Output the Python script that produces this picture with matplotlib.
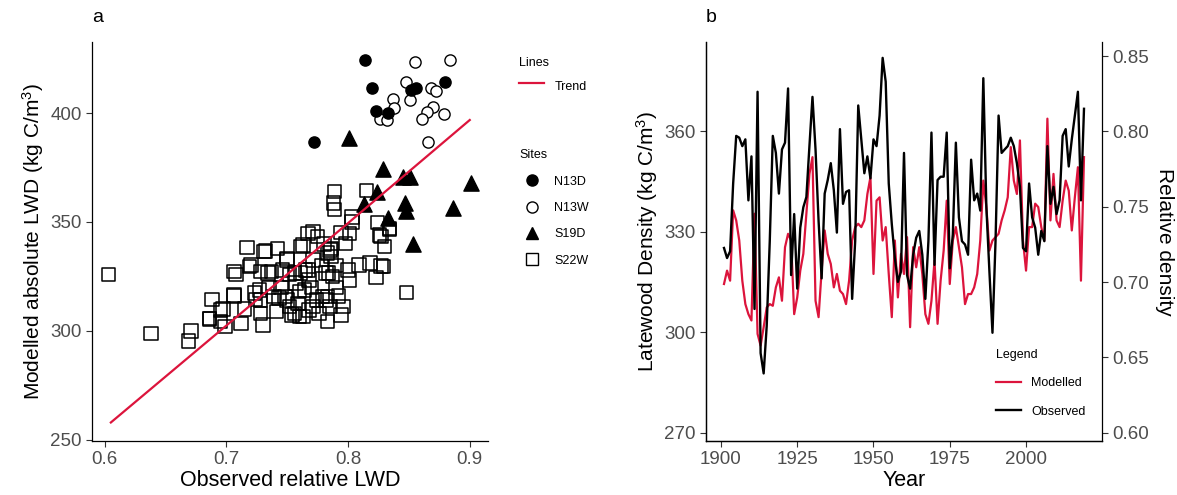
import numpy as np
import matplotlib
matplotlib.use("Agg")
from matplotlib import pyplot as plt
from matplotlib.lines import Line2D

plt.rcParams["font.family"] = ["Liberation Sans", "DejaVu Sans"]
plt.rcParams["mathtext.default"] = "regular"

# panel a: sites
n13d_x = [0.814, 0.820, 0.823, 0.833, 0.852, 0.856, 0.880, 0.772]
n13d_y = [424.3, 411.3, 401.1, 399.9, 410.6, 411.3, 414.4, 386.6]
n13w_x = [0.855, 0.884, 0.848, 0.837, 0.838, 0.851, 0.868, 0.872, 0.870, 0.865,
          0.861, 0.879, 0.826, 0.832, 0.866]
n13w_y = [423.5, 424.3, 414.4, 406.3, 402.2, 406.0, 411.3, 410.3, 403.0, 400.6,
          397.1, 399.5, 397.1, 396.8, 386.6]
s19d_x = [0.801, 0.829, 0.845, 0.851, 0.901, 0.824, 0.813, 0.847, 0.848, 0.886, 0.833, 0.853]
s19d_y = [388.4, 374.2, 370.5, 370.5, 368.0, 363.9, 358.3, 358.6, 355.2, 356.3, 352.0, 339.9]
s22w_x = [0.603, 0.638, 0.669, 0.671, 0.688, 0.686, 0.695, 0.697, 0.706, 0.708,
          0.706, 0.712, 0.715, 0.717, 0.719, 0.728, 0.732, 0.727, 0.724, 0.728,
          0.730, 0.737, 0.742, 0.746, 0.750, 0.743, 0.748, 0.752, 0.754, 0.760,
          0.759, 0.763, 0.761, 0.765, 0.768, 0.771, 0.775, 0.771, 0.774, 0.771,
          0.779, 0.782, 0.783, 0.782, 0.783, 0.786, 0.784, 0.787, 0.789, 0.788,
          0.789, 0.794, 0.798, 0.800, 0.796, 0.794, 0.801, 0.803, 0.801, 0.815,
          0.818, 0.823, 0.824, 0.827, 0.829, 0.830, 0.834, 0.848, 0.803, 0.834,
          0.826, 0.785, 0.786, 0.827, 0.809, 0.783, 0.785, 0.763, 0.768, 0.686,
          0.695, 0.699, 0.706, 0.720, 0.731, 0.734, 0.723, 0.728, 0.739, 0.741,
          0.750, 0.761, 0.767, 0.756, 0.750, 0.756, 0.764, 0.767, 0.757, 0.770,
          0.778, 0.790, 0.792, 0.776, 0.760, 0.745, 0.735, 0.752, 0.780, 0.790]
s22w_y = [326.0, 298.9, 295.4, 300.1, 314.5, 305.4, 304.3, 310.0, 316.0, 326.0,
          327.2, 303.5, 310.0, 338.3, 329.5, 327.2, 336.8, 318.8, 314.5, 308.1,
          302.8, 327.2, 337.9, 328.0, 333.3, 315.0, 315.8, 311.2, 307.3, 306.6,
          312.7, 339.4, 326.5, 328.0, 323.4, 345.6, 343.3, 332.6, 314.2, 311.2,
          315.8, 314.2, 304.3, 326.5, 335.7, 337.9, 326.5, 325.0, 363.9, 358.6,
          355.8, 345.1, 340.2, 328.0, 311.2, 307.3, 344.8, 350.1, 323.4, 364.4,
          331.3, 324.6, 349.7, 343.3, 329.5, 338.7, 347.1, 317.7, 352.4, 346.6,
          344.0, 337.2, 334.1, 329.8, 330.3, 315.8, 311.2, 306.6, 309.6, 305.8,
          309.6, 302.0, 316.5, 330.3, 336.4, 326.5, 317.3, 314.2, 315.8, 308.9,
          332.6, 338.7, 344.8, 326.5, 314.2, 308.1, 318.8, 328.0, 322.0, 320.0,
          330.0, 320.0, 316.0, 308.0, 318.0, 320.0, 320.0, 326.0, 340.0, 330.0]
trend_x = [0.605, 0.70, 0.80, 0.90]
trend_y = [258.0, 302.5, 349.5, 396.8]

# panel b: yearly series
year_start = 1901
modelled = [314.4, 318.4, 315.4, 336.4, 333.4, 327.4, 315.4, 308.4, 305.4, 303.5,
            335.4, 299.5, 296.0, 301.5, 307.4, 308.4, 307.9, 313.4, 316.4, 309.4,
            325.4, 329.4, 327.4, 305.4, 310.4, 318.4, 323.4, 335.4, 347.3, 352.3,
            309.4, 304.5, 318.4, 330.4, 323.4, 320.4, 313.4, 317.4, 312.4, 311.4,
            308.4, 315.4, 327.4, 331.4, 332.4, 331.4, 333.4, 341.3, 346.3, 317.4,
            339.3, 340.3, 327.4, 331.4, 317.4, 304.5, 327.4, 310.4, 323.4, 317.4,
            328.4, 301.5, 325.4, 319.4, 325.4, 317.4, 305.4, 302.5, 309.4, 321.4,
            302.5, 315.4, 324.4, 339.3, 314.4, 327.4, 331.4, 325.4, 319.4, 308.4,
            311.4, 311.4, 313.4, 317.4, 327.4, 345.3, 337.4, 324.4, 327.4, 328.4,
            329.4, 333.4, 336.4, 340.3, 355.3, 345.3, 341.3, 357.3, 327.4, 318.4,
            331.4, 331.4, 338.4, 337.4, 331.4, 327.4, 363.8, 333.4, 347.3, 333.4,
            331.4, 339.3, 345.3, 342.3, 330.4, 340.3, 349.3, 315.4, 352.3]
observed = [0.7226, 0.7159, 0.7204, 0.7654, 0.7970, 0.7958, 0.7902, 0.7947, 0.7542, 0.7834,
            0.6821, 0.8263, 0.6528, 0.6393, 0.6708, 0.7271, 0.7970, 0.7857, 0.7587, 0.7880,
            0.7925, 0.8285, 0.7046, 0.7451, 0.6956, 0.7361, 0.7496, 0.7564, 0.7902, 0.8229,
            0.7880, 0.7406, 0.7024, 0.7587, 0.7677, 0.7789, 0.7609, 0.7328, 0.8015, 0.7519,
            0.7598, 0.7609, 0.6888, 0.7271, 0.8172, 0.7947, 0.7722, 0.7834, 0.7688, 0.7947,
            0.7902, 0.8105, 0.8488, 0.8330, 0.7654, 0.7384, 0.7159, 0.7001, 0.7068, 0.7857,
            0.7046, 0.6956, 0.7181, 0.7294, 0.7339, 0.7181, 0.6888, 0.7271, 0.7992, 0.7114,
            0.7677, 0.7699, 0.7699, 0.7992, 0.7091, 0.7316, 0.7925, 0.7429, 0.7271, 0.7249,
            0.7181, 0.7812, 0.7542, 0.7587, 0.7474, 0.8353, 0.7496, 0.7068, 0.6663, 0.7271,
            0.8105, 0.7857, 0.7880, 0.7902, 0.7958, 0.7902, 0.7789, 0.7632, 0.7226, 0.7204,
            0.7654, 0.7429, 0.7361, 0.7181, 0.7339, 0.7271, 0.7902, 0.7519, 0.7632, 0.7451,
            0.7542, 0.7970, 0.8015, 0.7767, 0.7947, 0.8105, 0.8263, 0.7542, 0.8150]
years = np.arange(year_start, year_start + len(modelled))
sec_scale = 450.0

RED = "#DC143C"
GREY = "#4D4D4D"


def style_axis(ax):
    ax.tick_params(axis="both", which="both", direction="out", length=4, width=0.8,
                   color="#333333", labelcolor=GREY, labelsize=13.5)
    for side in ["left", "bottom", "right", "top"]:
        ax.spines[side].set_linewidth(0.9)
        ax.spines[side].set_color("black")


fig = plt.figure(figsize=(11.77, 4.95), dpi=100)

# ---- panel a
ax_a = fig.add_axes([92 / 1177, 54 / 495, 396 / 1177, 399 / 495])
ax_a.plot(trend_x, trend_y, color=RED, lw=1.6, zorder=3)
ax_a.scatter(s22w_x, s22w_y, marker="s", s=95, facecolors="none", edgecolors="black", linewidths=1.1, zorder=2)
ax_a.scatter(s19d_x, s19d_y, marker="^", s=120, color="black", zorder=2)
ax_a.scatter(n13w_x, n13w_y, marker="o", s=65, facecolors="white", edgecolors="black", linewidths=1.0, zorder=2)
ax_a.scatter(n13d_x, n13d_y, marker="o", s=65, color="black", zorder=2)
ax_a.set_xlim(0.5895, 0.915)
ax_a.set_ylim(249.5, 432.6)
ax_a.set_xticks([0.6, 0.7, 0.8, 0.9])
ax_a.set_xticklabels(["0.6", "0.7", "0.8", "0.9"])
ax_a.set_yticks([250, 300, 350, 400])
ax_a.spines["top"].set_visible(False)
ax_a.spines["right"].set_visible(False)
style_axis(ax_a)
ax_a.set_xlabel("Observed relative LWD", fontsize=15.5, labelpad=1)
ax_a.set_ylabel("Modelled absolute LWD (kg C/m$^3$)", fontsize=15, labelpad=3)
fig.text(92 / 1177, 1 - 18 / 495, "a", fontsize=14, va="center", ha="left")

fig.legend([Line2D([], [], color=RED, lw=1.6)], ["Trend"], title="Lines",
           loc="upper left", bbox_to_anchor=(508 / 1177, 1 - 46 / 495),
           frameon=False, fontsize=9, title_fontsize=9, alignment="left",
           handlelength=2.0, handletextpad=0.8, handleheight=2.2)
site_handles = [
    Line2D([], [], ls="none", marker="o", ms=8, color="black"),
    Line2D([], [], ls="none", marker="o", ms=8, mfc="white", mec="black"),
    Line2D([], [], ls="none", marker="^", ms=9, color="black"),
    Line2D([], [], ls="none", marker="s", ms=9, mfc="none", mec="black"),
]
fig.legend(site_handles, ["N13D", "N13W", "S19D", "S22W"], title="Sites",
           loc="upper left", bbox_to_anchor=(508 / 1177, 1 - 138 / 495),
           frameon=False, fontsize=9, title_fontsize=9, alignment="left",
           handlelength=2.0, handletextpad=0.8, labelspacing=1.15)

# ---- panel b
ax_b = fig.add_axes([706 / 1177, 54 / 495, 396 / 1177, 399 / 495])
ax_r = ax_b.twinx()
ax_b.plot(years, modelled, color=RED, lw=1.6, label="Modelled")
ax_r.plot(years, observed, color="black", lw=1.7, label="Observed")
ax_b.set_xlim(1895.1, 2024.9)
ax_b.set_ylim(267.5, 386.7)
ax_r.set_ylim(267.5 / sec_scale, 386.7 / sec_scale)
ax_b.set_xticks([1900, 1925, 1950, 1975, 2000])
ax_b.set_yticks([270, 300, 330, 360])
ax_r.set_yticks([0.60, 0.65, 0.70, 0.75, 0.80, 0.85])
ax_r.set_yticklabels(["0.60", "0.65", "0.70", "0.75", "0.80", "0.85"])
ax_b.spines["top"].set_visible(False)
ax_r.spines["top"].set_visible(False)
ax_b.spines["right"].set_visible(False)
style_axis(ax_b)
style_axis(ax_r)
ax_b.set_xlabel("Year", fontsize=15.5, labelpad=1)
ax_b.set_ylabel("Latewood Density (kg C/m$^3$)", fontsize=15, labelpad=3)
ax_r.set_ylabel("Relative density", fontsize=15, rotation=270, labelpad=18)
fig.text(706 / 1177, 1 - 18 / 495, "b", fontsize=14, va="center", ha="left")

fig.legend([Line2D([], [], color=RED, lw=1.6), Line2D([], [], color="black", lw=1.7)],
           ["Modelled", "Observed"], title="Legend", loc="upper left",
           bbox_to_anchor=(985 / 1177, 1 - 338 / 495), frameon=False, fontsize=9,
           title_fontsize=9, alignment="left", handlelength=2.0, handletextpad=0.8,
           labelspacing=1.3)

fig.savefig("out.png", dpi=100)
